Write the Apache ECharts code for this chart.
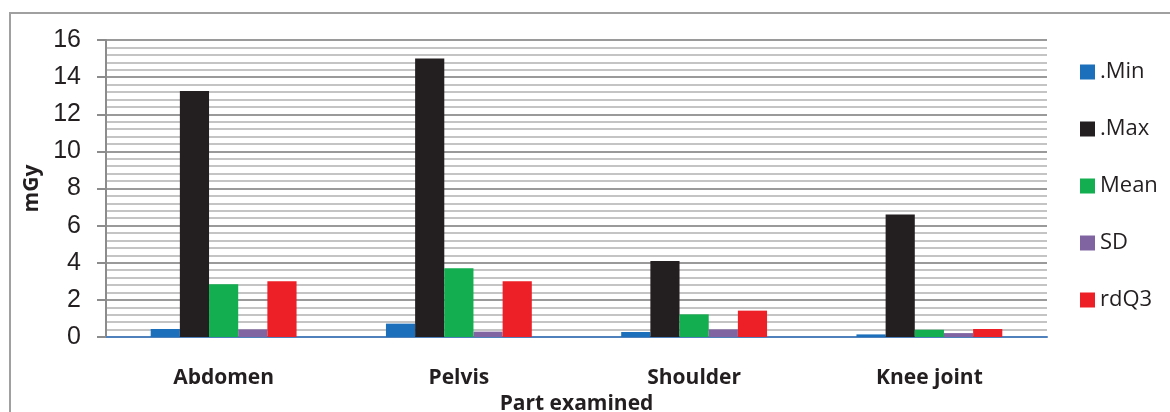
<!DOCTYPE html>
<html>
<head>
<meta charset="utf-8">
<script src="https://cdn.jsdelivr.net/npm/echarts@6/dist/echarts.min.js"></script>
<style>
  html, body { margin: 0; padding: 0; background: #fff; }
  #chart { width: 1170px; height: 412px; }
</style>
</head>
<body>
<div id="chart"></div>
<script>
// data
var categories = ['Abdomen', 'Pelvis', 'Shoulder', 'Knee joint'];
var minVals = [0.43, 0.72, 0.27, 0.14];
var maxVals = [13.25, 15.0, 4.1, 6.6];
var meanVals = [2.84, 3.7, 1.22, 0.39];
var sdVals = [0.41, 0.29, 0.41, 0.21];
var q3Vals = [3.0, 3.0, 1.42, 0.43];
var yTicks = { min: 0, max: 16, interval: 2 };

var chart = echarts.init(document.getElementById('chart'));

function bar(name, data, color) {
  return {
    name: name,
    type: 'bar',
    data: data,
    barGap: 0,
    barCategoryGap: '38%',
    itemStyle: { color: color }
  };
}

var option = {
  animation: false,
  backgroundColor: '#fff',
  graphic: [{
    type: 'rect',
    shape: { x: 10, y: 13, width: 1170, height: 420 },
    style: { fill: 'none', stroke: '#a0a0a0', lineWidth: 2 },
    silent: true
  }],
  grid: { left: 106, right: 123, top: 40, bottom: 75, outerBoundsMode: 'none', containLabel: false },
  legend: {
    orient: 'vertical',
    left: 1075,
    top: 56,
    itemWidth: 15,
    itemHeight: 15,
    itemGap: 35,
    icon: 'rect',
    textStyle: { fontFamily: 'Open Sans', fontSize: 22, lineHeight: 22, color: '#231f20' }
  },
  xAxis: {
    type: 'category',
    data: categories,
    name: 'Part examined',
    nameLocation: 'middle',
    nameGap: 53,
    nameTextStyle: { fontFamily: 'Open Sans', fontWeight: 'bold', fontSize: 21, color: '#231f20' },
    axisLine: { lineStyle: { color: '#4f81bd', width: 2 } },
    axisTick: { show: false },
    axisLabel: { margin: 31, fontFamily: 'Open Sans', fontWeight: 'bold', fontSize: 21, color: '#231f20' }
  },
  yAxis: {
    type: 'value',
    min: yTicks.min,
    max: yTicks.max,
    interval: yTicks.interval,
    name: 'mGy',
    nameLocation: 'middle',
    nameGap: 63,
    nameTextStyle: { fontFamily: 'Open Sans', fontWeight: 'bold', fontSize: 21, color: '#231f20' },
    axisLine: { show: true, lineStyle: { color: '#8c8c8c', width: 2 } },
    axisTick: { show: true, length: 9, lineStyle: { color: '#8c8c8c', width: 2 } },
    axisLabel: { margin: 25, fontFamily: 'Liberation Sans', fontSize: 25, color: '#231f20' },
    splitLine: { lineStyle: { color: '#9a9a9a', width: 2 } },
    minorTick: { show: false, splitNumber: 5 },
    minorSplitLine: { show: true, lineStyle: { color: '#c4c4c4', width: 2 } }
  },
  series: [
    bar('.Min', minVals, '#1c6fbb'),
    bar('.Max', maxVals, '#231f20'),
    bar('Mean', meanVals, '#12ae4f'),
    bar('SD', sdVals, '#8064a2'),
    bar('rdQ3', q3Vals, '#ec2026')
  ]
};

chart.setOption(option);
</script>
</body>
</html>
